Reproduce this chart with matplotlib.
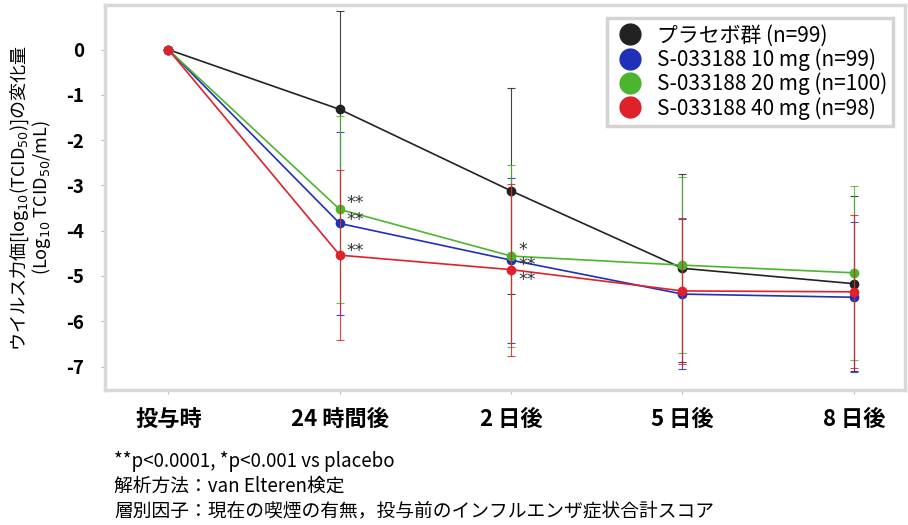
import numpy as np
import matplotlib
matplotlib.use("Agg")
import matplotlib.pyplot as plt
from matplotlib.lines import Line2D

plt.rcParams['font.family'] = ['Noto Sans CJK JP', 'DejaVu Sans']
plt.rcParams['mathtext.fontset'] = 'dejavusans'

# data
timepoints = ["投与時", "24 時間後", "2 日後", "5 日後", "8 日後"]
groups = ["プラセボ群 (n=99)", "S-033188 10 mg (n=99)",
          "S-033188 20 mg (n=100)", "S-033188 40 mg (n=98)"]
colors = ["#222222", "#2030b8", "#4cb52e", "#e0202a"]

placebo_mean = [0, -1.32, -3.12, -4.83, -5.17]
placebo_sd = [0, 2.17, 2.27, 2.08, 1.93]
s10_mean = [0, -3.84, -4.65, -5.40, -5.47]
s10_sd = [0, 2.03, 1.82, 1.66, 1.66]
s20_mean = [0, -3.53, -4.56, -4.76, -4.93]
s20_sd = [0, 2.06, 2.01, 1.95, 1.92]
s40_mean = [0, -4.54, -4.86, -5.33, -5.35]
s40_sd = [0, 1.87, 1.90, 1.62, 1.69]

means = [placebo_mean, s10_mean, s20_mean, s40_mean]
sds = [placebo_sd, s10_sd, s20_sd, s40_sd]

# significance marks, stacked per timepoint:
# (timepoint index, group index the stack starts at, text, line spacing, offset)
sig_marks = [(1, 2, "**\n**", 0.9, 0.34),
             (1, 3, "**", 1.0, 0.29),
             (2, 2, "*\n**\n**", 0.78, 0.33)]

fig = plt.figure(figsize=(9.08, 5.25), dpi=100)
ax = fig.add_axes([0.116, 0.257, 0.881, 0.733])

x = np.arange(len(timepoints))
for m, s, c, lab in zip(means, sds, colors, groups):
    m = np.array(m)
    s = np.array(s)
    ax.errorbar(x[1:], m[1:], yerr=s[1:], fmt='none', ecolor=c,
                elinewidth=0.8, capsize=3, capthick=0.8, alpha=0.85)
    ax.plot(x, m, '-o', color=c, lw=1.2, ms=6, mec=c, label=lab)

for ti, gi, txt, ls, dy in sig_marks:
    ax.text(x[ti] + 0.04, means[gi][ti] + dy, txt, fontsize=12.5,
            color="#333333", ha='left', va='top', linespacing=ls,
            family='DejaVu Sans')

ax.set_xlim(-0.368, 4.30)
ax.set_ylim(-7.52, 0.98)
ax.set_yticks(range(0, -8, -1))
ax.set_yticklabels([str(v) for v in range(0, -8, -1)],
                   fontsize=13.5, fontweight='bold')
ax.set_xticks(x)
ax.set_xticklabels(timepoints, fontsize=16, fontweight='bold')
ax.tick_params(axis='both', color='#bbbbbb', length=3, width=0.8)
ax.tick_params(axis='x', pad=10)
ax.tick_params(axis='y', pad=12)
for sp in ax.spines.values():
    sp.set_color('#d9d9d9')
    sp.set_linewidth(2.5)

ax.set_ylabel("ウイルス力価[log$_{10}$(TCID$_{50}$)]の変化量\n(Log$_{10}$ TCID$_{50}$/mL)",
              fontsize=13, labelpad=10, linespacing=0.95)

handles = [Line2D([], [], marker='o', ls='none', color=c, ms=15) for c in colors]
leg = ax.legend(handles, groups, loc='upper right', fontsize=15,
                frameon=True, fancybox=False, handletextpad=0.5,
                borderpad=0.3, labelspacing=0.08, handlelength=1.6,
                bbox_to_anchor=(0.998, 0.993))
leg.get_frame().set_edgecolor('#c8c8c8')
leg.get_frame().set_linewidth(2.5)

notes = ["**p<0.0001, *p<0.001 vs placebo",
         "解析方法：van Elteren検定",
         "層別因子：現在の喫煙の有無，投与前のインフルエンザ症状合計スコア"]
for i, t in enumerate(notes):
    fig.text(0.126, 0.12 - i * 0.046, t, fontsize=13.5, va='center')

fig.savefig("out.png", dpi=100)
